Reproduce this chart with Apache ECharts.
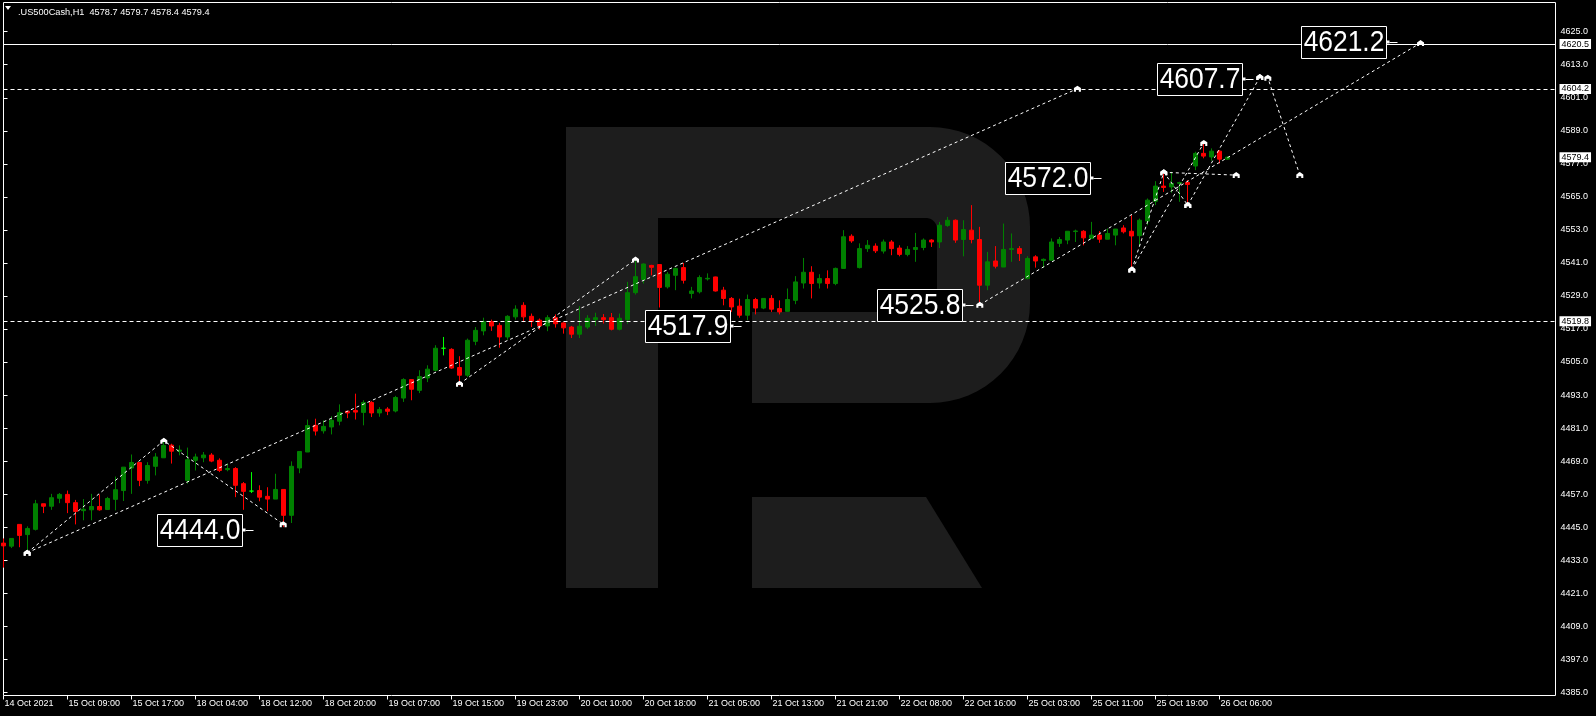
<!DOCTYPE html>
<html><head><meta charset="utf-8">
<script src="https://cdn.jsdelivr.net/npm/echarts@6/dist/echarts.min.js"></script>
<style>html,body{margin:0;padding:0;background:#000;}#c{width:1596px;height:716px;}</style>
</head><body><div id="c"></div>
<script>
// ---- DATA ----
const opens = [4439.2,4438.1,4446.0,4442.3,4444.2,4453.5,4452.6,4455.5,4456.9,4453.9,4451.0,4451.3,4452.5,4451.4,4455.1,4458.3,4466.5,4468.5,4462.0,4467.1,
4470.2,4474.8,4472.6,4462.0,4469.3,4470.2,4471.2,4469.3,4465.9,4466.3,4460.8,4458.1,4458.3,4456.2,4455.2,4458.7,4449.3,4466.5,4472.3,4482.0,
4480.0,4481.4,4483.5,4487.1,4487.4,4486.7,4490.3,4486.5,4487.9,4487.2,4491.9,4498.6,4494.7,4499.2,4502.0,4510.0,4509.6,4503.0,4500.2,4512.5,
4516.3,4519.7,4518.3,4514.1,4521.4,4525.6,4521.6,4520.2,4518.1,4521.1,4519.2,4517.7,4515.1,4517.7,4520.4,4521.1,4521.1,4516.9,4520.4,4530.2,
4535.0,4540.1,4540.4,4532.3,4536.5,4539.3,4529.9,4530.5,4535.2,4535.9,4531.1,4528.1,4525.3,4522.0,4527.7,4524.6,4528.1,4524.4,4523.4,4527.4,
4533.7,4537.6,4533.7,4535.3,4533.5,4539.0,4550.7,4539.3,4546.2,4547.1,4545.3,4548.6,4546.4,4544.1,4545.9,4546.6,4549.3,4548.6,4554.6,4556.5,
4549.5,4552.9,4549.5,4532.9,4541.7,4539.5,4545.9,4546.2,4535.3,4543.2,4541.9,4542.0,4548.1,4549.3,4552.4,4552.5,4549.9,4551.1,4549.6,4551.1,
4553.7,4552.5,4550.9,4556.2,4563.4,4568.9,4568.6,4569.9,4570.2,4576.2,4580.8,4579.5,4581.6,4578.7];
const highs = [4440.9,4440.9,4446.0,4445.3,4454.9,4453.5,4457.1,4457.4,4458.3,4454.9,4455.2,4457.1,4456.9,4456.0,4463.4,4466.8,4471.4,4468.5,4468.6,4471.9,
4476.8,4475.3,4474.7,4473.9,4471.7,4472.3,4471.9,4470.0,4468.1,4466.8,4461.4,4465.0,4460.2,4459.5,4464.4,4458.7,4468.9,4472.5,4484.1,4484.4,
4483.8,4485.3,4489.6,4487.1,4493.5,4491.1,4490.8,4488.6,4488.6,4492.7,4499.1,4498.6,4502.0,4503.8,4511.1,4514.1,4510.0,4507.1,4513.5,4517.7,
4521.1,4520.4,4519.2,4522.0,4525.6,4526.7,4522.6,4520.8,4522.0,4522.3,4519.5,4518.1,4525.3,4522.0,4522.9,4522.4,4522.8,4522.6,4534.1,4542.0,
4540.8,4540.3,4540.6,4537.7,4539.3,4541.0,4532.3,4536.5,4537.2,4536.0,4532.3,4528.6,4528.0,4529.5,4528.3,4528.1,4529.3,4527.4,4531.7,4536.2,
4542.8,4539.8,4536.9,4538.3,4539.3,4552.9,4551.4,4548.1,4549.3,4548.1,4549.5,4549.3,4547.4,4547.1,4551.9,4549.9,4549.6,4555.9,4557.7,4556.8,
4556.5,4562.0,4554.1,4545.0,4547.1,4555.3,4551.7,4547.1,4543.4,4543.8,4542.6,4549.9,4550.4,4552.5,4553.1,4552.9,4555.9,4552.5,4553.5,4553.3,
4554.7,4558.3,4557.1,4564.4,4570.7,4573.6,4574.1,4570.5,4571.1,4581.4,4585.0,4582.6,4582.0,4579.7];
const lows = [4430.3,4437.4,4437.7,4435.9,4443.8,4450.1,4451.3,4453.7,4450.1,4446.0,4447.5,4447.5,4451.0,4451.4,4451.1,4454.5,4457.1,4459.9,4460.8,4463.8,
4470.2,4468.1,4471.1,4460.8,4465.6,4468.6,4468.6,4465.0,4465.3,4455.9,4451.3,4457.4,4454.4,4450.8,4455.2,4445.0,4446.5,4464.6,4472.3,4478.3,
4479.0,4478.7,4482.0,4484.6,4484.1,4482.0,4485.0,4485.1,4485.7,4486.7,4490.5,4491.1,4493.7,4497.7,4501.6,4507.4,4502.5,4496.5,4499.5,4511.1,
4514.7,4516.3,4510.2,4513.1,4520.4,4519.5,4517.7,4516.8,4516.2,4517.5,4515.3,4513.7,4513.7,4517.0,4518.1,4519.0,4516.5,4516.5,4518.9,4529.5,
4533.5,4536.5,4524.8,4531.7,4531.1,4533.5,4528.1,4529.9,4534.6,4530.6,4525.6,4523.2,4521.1,4520.2,4522.3,4524.2,4523.2,4522.3,4523.4,4526.0,
4531.7,4528.1,4531.7,4531.7,4532.9,4539.0,4548.3,4539.0,4545.0,4544.6,4544.4,4543.8,4543.4,4543.4,4541.4,4545.6,4546.8,4546.4,4554.1,4548.3,
4543.4,4548.1,4525.8,4531.1,4539.0,4539.5,4541.4,4541.7,4535.0,4539.3,4539.3,4542.0,4546.8,4547.8,4548.6,4547.4,4549.9,4548.3,4549.6,4547.4,
4551.7,4538.6,4547.1,4554.7,4562.0,4566.8,4566.5,4563.2,4562.0,4574.7,4579.0,4578.1,4577.1,4578.4];
const closes = [4438.2,4440.9,4442.0,4444.5,4453.5,4452.6,4455.7,4456.9,4453.9,4450.7,4451.5,4452.5,4451.3,4455.4,4458.6,4466.8,4468.5,4462.0,4467.4,4470.5,
4474.7,4472.6,4473.0,4469.5,4470.5,4471.2,4469.0,4465.6,4466.3,4460.2,4458.0,4458.1,4455.9,4455.2,4458.7,4449.3,4467.1,4472.5,4481.9,4479.9,
4481.6,4483.8,4486.6,4486.5,4486.8,4490.3,4486.5,4487.7,4487.1,4492.1,4498.6,4495.1,4499.7,4502.4,4510.0,4510.0,4502.8,4500.2,4512.9,4516.5,
4519.7,4518.1,4514.1,4521.6,4524.2,4521.4,4519.8,4518.1,4521.1,4518.9,4517.4,4515.1,4518.0,4520.9,4521.1,4520.4,4516.9,4520.9,4530.2,4536.0,
4540.6,4539.4,4532.1,4536.9,4539.0,4534.7,4530.8,4535.7,4535.4,4530.8,4528.1,4525.0,4522.0,4527.7,4524.6,4528.1,4524.2,4523.2,4527.7,4534.1,
4537.6,4533.5,4535.3,4533.5,4539.0,4550.5,4549.0,4546.2,4547.4,4545.4,4548.6,4546.2,4544.1,4545.9,4546.6,4549.3,4548.6,4554.7,4556.5,4549.3,
4553.1,4549.5,4532.9,4541.4,4539.8,4545.9,4546.2,4544.4,4542.6,4541.7,4542.3,4548.6,4549.5,4552.5,4552.6,4550.1,4551.1,4549.6,4551.7,4553.3,
4552.3,4550.8,4556.5,4563.8,4568.9,4568.4,4569.9,4570.2,4569.5,4580.8,4579.8,4581.6,4578.7,4579.4];
const tickLabels = ['14 Oct 2021','15 Oct 09:00','15 Oct 17:00','18 Oct 04:00','18 Oct 12:00','18 Oct 20:00','19 Oct 07:00','19 Oct 15:00','19 Oct 23:00','20 Oct 10:00',
'20 Oct 18:00','21 Oct 05:00','21 Oct 13:00','21 Oct 21:00','22 Oct 08:00','22 Oct 16:00','25 Oct 03:00','25 Oct 11:00','25 Oct 19:00','26 Oct 06:00'];
const priceTicks = [4385,4397,4409,4421,4433,4445,4457,4469,4481,4493,4505,4517,4529,4541,4553,4565,4577,4589,4601,4613,4625];
const levelLines = [4620.5, 4604.2, 4519.8];
const lastPrice = 4579.4;
const title = '.US500Cash,H1  4578.7 4579.7 4578.4 4579.4';
// annotation boxes: [bar position of box right edge, price]
const boxPos = [[29.79,4444.0],[90.79,4517.9],[119.79,4525.8],[135.79,4572.0],[154.84,4607.7],[172.84,4621.2]];
const boxText = ['4444.0','4517.9','4525.8','4572.0','4607.7','4621.2'];
// forecast / wave lines: [bar position, price]
const waveA = [[2.96,4435.7],[20.04,4476.4],[34.96,4446.1]];
const trendA = [[2.96,4435.7],[134.24,4604.3]];
const waveB = [[57.0,4497.1],[79.0,4542.2]];
const trendB = [[122.04,4525.8],[177.13,4620.9]];
const waveC = [[141.04,4538.6],[145.04,4573.9],[148.04,4562.0]];
const channelC1 = [[141.04,4538.6],[150.04,4584.6]];
const channelC2 = [[148.04,4562.0],[157.04,4608.5]];
const targetC = [[157.04,4608.5],[158.04,4608.3],[162.04,4572.9]];
const flatC = [[145.04,4573.9],[154.09,4572.9]];

// ---- CHART ----
const N = 195;
const categories = Array.from({length: N}, (_, i) => String(i));
const candles = opens.map((o, i) => [o, closes[i], lows[i], highs[i]]);
const FONT = '"Liberation Sans", Arial, sans-serif';
const marker = 'path://M0,10 L0,4 L5,0 L10,4 L10,10 L7,10 L7,7 L3,7 L3,10 Z';
const isTick = (i) => i % 8 === 0 && i / 8 < tickLabels.length;

function arc(cx, cy, r, a0, a1) {
  const pts = [];
  for (let k = 0; k <= 16; k++) {
    const a = (a0 + (a1 - a0) * k / 16) * Math.PI / 180;
    pts.push([cx + r * Math.cos(a), cy + r * Math.sin(a)]);
  }
  return pts;
}
const logoPts = [[566, 127]]
  .concat(arc(930, 227, 100, -90, 0))
  .concat(arc(930, 303, 100, 0, 90))
  .concat([[752, 403], [752, 312]])
  .concat(arc(926, 301, 11, 90, 0))
  .concat(arc(926, 229, 11, 0, -90))
  .concat([[658, 218], [658, 588], [566, 588]]);

function waveSeries(pts) {
  return {
    type: 'line', xAxisIndex: 1, yAxisIndex: 0, data: pts, z: 5,
    symbol: marker, symbolSize: [7, 6], showSymbol: true,
    itemStyle: {color: '#fff'},
    lineStyle: {color: '#fff', width: 1, type: [3, 3]},
    animation: false, silent: true
  };
}

const chart = echarts.init(document.getElementById('c'));
chart.setOption({
  backgroundColor: '#000',
  animation: false,
  title: {text: title, left: 13, top: 3, textStyle: {color: '#fff', fontSize: 9.2, fontWeight: 'normal', fontFamily: FONT}},
  graphic: [
    {type: 'polygon', shape: {points: [[5, 6], [11, 6], [8, 10]]}, style: {fill: '#fff'}},
    {type: 'polygon', z: 0, silent: true, shape: {points: logoPts}, style: {fill: '#1d1d1d'}},
    {type: 'polygon', z: 0, silent: true, shape: {points: [[752, 497], [926, 497], [982, 588], [752, 588]]}, style: {fill: '#1d1d1d'}}
  ],
  grid: {left: 3.5, right: 40.5, top: 2.5, bottom: 20.5, show: true, borderColor: '#fff', borderWidth: 1, backgroundColor: 'transparent'},
  xAxis: [
    {type: 'category', data: categories, boundaryGap: false,
     axisLine: {show: false},
     axisTick: {show: true, length: 4, interval: (i) => isTick(i), lineStyle: {color: '#fff'}},
     axisLabel: {interval: (i) => isTick(i), color: '#fff', fontSize: 9, fontFamily: FONT, align: 'left', margin: 4, padding: [0, 0, 0, 1],
                 formatter: (v) => tickLabels[Number(v) / 8] || ''},
     splitLine: {show: false}},
    {type: 'value', min: 0, max: N - 1, show: false}
  ],
  yAxis: [{
    type: 'value', position: 'right', min: 4383.84, max: 4635.61,
    axisLine: {show: false},
    axisTick: {show: true, length: 4, customValues: priceTicks, lineStyle: {color: '#fff'}},
    axisLabel: {customValues: priceTicks, color: '#fff', fontSize: 9, fontFamily: FONT, margin: 5, formatter: (v) => v.toFixed(1)},
    splitLine: {show: false}
  }],
  series: [
    {
      type: 'candlestick', xAxisIndex: 0, yAxisIndex: 0, data: candles, barWidth: 4, z: 3,
      itemStyle: {color: '#008000', color0: '#ff0000', borderColor: '#008000', borderColor0: '#ff0000', borderColorDoji: '#00ff00', borderWidth: 1},
      markLine: {
        silent: true, symbol: ['none', 'none'], animation: false,
        lineStyle: {color: '#fff', width: 1},
        label: {position: 'end', distance: 4, color: '#000', backgroundColor: '#fff', fontSize: 9, fontFamily: FONT, padding: [1, 2, 0, 2],
                formatter: (p) => Number(p.value).toFixed(1)},
        data: [
          {yAxis: levelLines[0], lineStyle: {type: 'solid'}},
          {yAxis: levelLines[1], lineStyle: {type: [4, 3]}},
          {yAxis: levelLines[2], lineStyle: {type: [4, 3]}},
          {yAxis: lastPrice, lineStyle: {color: 'rgba(0,0,0,0)'}}
        ]
      }
    },
    waveSeries(waveA), waveSeries(trendA), waveSeries(waveB), waveSeries(trendB),
    waveSeries(waveC), waveSeries(channelC1), waveSeries(channelC2), waveSeries(targetC), waveSeries(flatC),
    {
      type: 'custom', xAxisIndex: 1, yAxisIndex: 0, data: boxPos, z: 10, silent: true,
      renderItem: function (params, api) {
        const pt = api.coord([api.value(0), api.value(1)]);
        const w = 85, h = 32;
        const x = Math.round(pt[0]) + 0.5, y = Math.round(pt[1]);
        return {type: 'group', children: [
          {type: 'rect', shape: {x: x - w, y: y - h / 2 + 0.5, width: w, height: h}, style: {fill: '#000', stroke: '#fff', lineWidth: 1}},
          {type: 'text', x: x - w / 2, y: y + 0.5, scaleX: 0.88,
           style: {text: boxText[params.dataIndex], x: 0, y: 0, align: 'center', verticalAlign: 'middle', fill: '#fff',
                   font: '30px "Liberation Sans", Arial, sans-serif'}},
          {type: 'rect', shape: {x: x, y: y - 1.5, width: 3, height: 3}, style: {fill: '#fff'}},
          {type: 'line', shape: {x1: x + 3, y1: y + 0.5, x2: x + 11, y2: y + 0.5}, style: {stroke: '#fff', lineWidth: 1}}
        ]};
      }
    }
  ]
});
</script></body></html>
